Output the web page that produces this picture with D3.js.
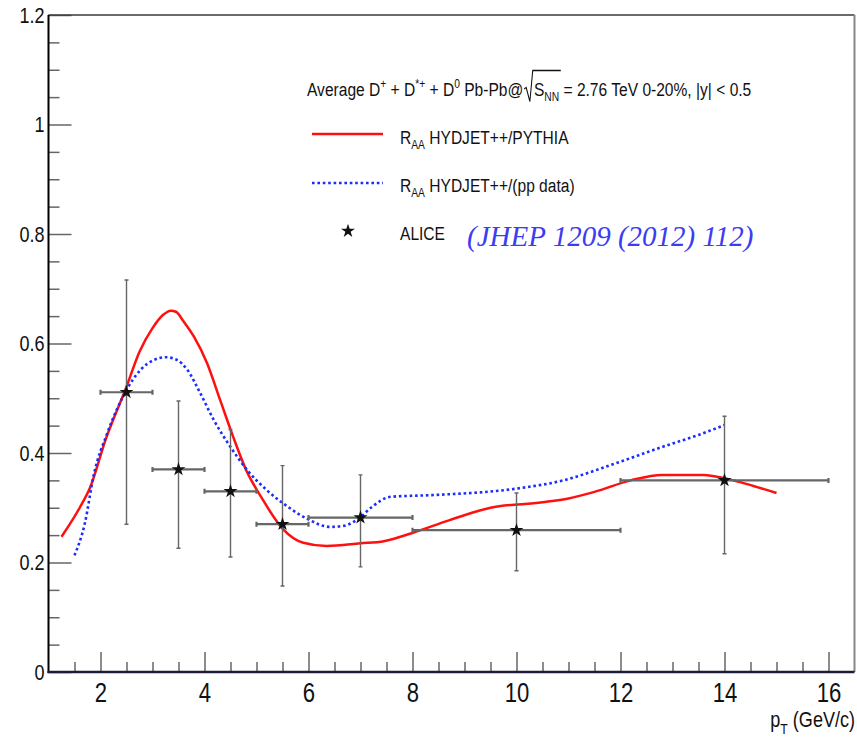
<!DOCTYPE html>
<meta charset="utf-8">
<style>
  body { margin: 0; background: #fff; }
  svg { font-family: "Liberation Sans", Arial, sans-serif; }
  .frame-left { stroke: #000; stroke-width: 2; }
  .frame-bottom { stroke: #1c1c3a; stroke-width: 2.5; }
  .frame-top { stroke: #3a3a3a; stroke-width: 1.5; }
  .frame-right { stroke: #888; stroke-width: 2; }
  .axis path { display: none; }
  .axis line { stroke: #666; stroke-width: 1.5; }
  .axis text { fill: #111; }
  .err { stroke: #666; fill: none; }
</style>
<body>
<svg width="857" height="740"></svg>
<script src="https://cdn.jsdelivr.net/npm/d3@7"></script>
<script>
  // ALICE points (D mesons, 0-20%)
  const aliceX     = [2.5, 3.5, 4.5, 5.5, 7, 10, 14];
  const aliceY     = [0.511, 0.370, 0.330, 0.270, 0.282, 0.259, 0.350];
  const aliceXLow  = [2, 3, 4, 5, 6, 8, 12];
  const aliceXHigh = [3, 4, 5, 6, 8, 12, 16];
  const aliceYLow  = [0.270, 0.226, 0.210, 0.157, 0.192, 0.185, 0.216];
  const aliceYHigh = [0.716, 0.495, 0.443, 0.377, 0.360, 0.327, 0.467];

  // HYDJET++/PYTHIA
  const pythiaX = [1.25, 1.6, 1.8, 2.1, 2.5, 2.75, 3.0, 3.2, 3.35, 3.45, 3.6, 3.8, 4.05, 4.3, 4.55,
                   4.8, 5.1, 5.5, 5.9, 6.35, 7.0, 7.45, 8.0, 8.7, 9.5, 10.5, 11.0, 11.5, 12.2, 12.8,
                   13.6, 14.0, 14.4, 15.0];
  const pythiaY = [0.247, 0.300, 0.337, 0.425, 0.521, 0.585, 0.628, 0.652, 0.660, 0.658, 0.640, 0.612, 0.564, 0.497, 0.430,
                   0.369, 0.318, 0.262, 0.236, 0.230, 0.235, 0.239, 0.254, 0.277, 0.300, 0.310, 0.317, 0.329, 0.350, 0.360,
                   0.360, 0.354, 0.344, 0.327];

  // HYDJET++/(pp data)
  const ppX = [1.5, 1.7, 1.87, 2.13, 2.5, 2.77, 3.03, 3.25, 3.47, 3.67, 3.92, 4.18, 4.5, 4.82, 5.2,
               5.6, 5.97, 6.42, 6.68, 7.0, 7.2, 7.58, 8.35, 10.0, 10.9, 11.9, 12.8, 13.5, 14.0];
  const ppY = [0.213, 0.272, 0.360, 0.436, 0.515, 0.552, 0.570, 0.575, 0.570, 0.552, 0.509, 0.460, 0.411, 0.369, 0.332,
               0.302, 0.280, 0.265, 0.267, 0.283, 0.300, 0.320, 0.323, 0.335, 0.350, 0.381, 0.411, 0.433, 0.451];

  const xTicks = [2, 4, 6, 8, 10, 12, 14, 16];
  const yTicks = [0, 0.2, 0.4, 0.6, 0.8, 1, 1.2];

  const NARROW = 0.82;   // Helvetica-narrow look, no narrow font installed

  const svg = d3.select("svg");
  const x = d3.scaleLinear().domain([1, 16.5]).range([48.5, 854.5]);
  const y = d3.scaleLinear().domain([0, 1.2]).range([672, 15]);

  const xMinor = d3.range(1.5, 16.5, 0.5).filter(v => v % 2 !== 0);
  const yMinor = d3.range(0.05, 1.2, 0.05).filter(v => Math.abs(v / 0.2 - Math.round(v / 0.2)) > 1e-6);

  // axes (ticks point inward like ROOT)
  svg.append("g").attr("class", "axis").attr("transform", `translate(0,${y(0)})`)
      .call(d3.axisBottom(x).tickValues(xMinor).tickSize(-10).tickFormat(""));
  svg.append("g").attr("class", "axis").attr("transform", `translate(0,${y(0)})`)
      .call(d3.axisBottom(x).tickValues(xTicks).tickSize(-20).tickPadding(11))
      .selectAll("text").attr("font-size", 27).attr("transform", `scale(${NARROW},1)`);

  svg.append("g").attr("class", "axis").attr("transform", `translate(${x(1)},0)`)
      .call(d3.axisLeft(y).tickValues(yMinor).tickSize(-11).tickFormat(""));
  svg.append("g").attr("class", "axis").attr("transform", `translate(${x(1)},0)`)
      .call(d3.axisLeft(y).tickValues(yTicks).tickSize(-23).tickPadding(4).tickFormat(d3.format("~g")))
      .selectAll("text").attr("font-size", 22)
      .attr("x", -4 / NARROW).attr("transform", `scale(${NARROW},1)`);

  // frame
  svg.append("line").attr("class", "frame-top").attr("x1", x(1)).attr("x2", x(16.5)).attr("y1", y(1.2)).attr("y2", y(1.2));
  svg.append("line").attr("class", "frame-right").attr("x1", x(16.5)).attr("x2", x(16.5)).attr("y1", y(1.2)).attr("y2", y(0));
  svg.append("line").attr("class", "frame-left").attr("x1", x(1)).attr("x2", x(1)).attr("y1", y(1.2)).attr("y2", y(0) + 1);
  svg.append("line").attr("class", "frame-bottom").attr("x1", x(1) - 1).attr("x2", x(16.5)).attr("y1", y(0)).attr("y2", y(0));

  // curves
  const line = d3.line().x(d => x(d[0])).y(d => y(d[1])).curve(d3.curveMonotoneX);
  svg.append("path")
      .datum(pythiaX.map((v, i) => [v, pythiaY[i]]))
      .attr("d", line)
      .attr("fill", "none").attr("stroke", "#ff1010").attr("stroke-width", 2.5);
  svg.append("path")
      .datum(ppX.map((v, i) => [v, ppY[i]]))
      .attr("d", line)
      .attr("fill", "none").attr("stroke", "#1a2cff").attr("stroke-width", 2.6)
      .attr("stroke-dasharray", "2.6,2.8");

  // ALICE error bars + markers
  const alice = aliceX.map((v, i) => ({
    x: v, y: aliceY[i], xl: aliceXLow[i], xh: aliceXHigh[i], yl: aliceYLow[i], yh: aliceYHigh[i]
  }));
  const pts = svg.append("g");
  pts.selectAll(".h").data(alice).enter().append("path")
      .attr("class", "err").attr("stroke-width", 2.2)
      .attr("d", d => `M${x(d.xl)},${y(d.y)}H${x(d.xh)}M${x(d.xl)},${y(d.y) - 2.5}v5M${x(d.xh)},${y(d.y) - 2.5}v5`);
  pts.selectAll(".v").data(alice).enter().append("path")
      .attr("class", "err").attr("stroke-width", 1.4)
      .attr("d", d => `M${x(d.x)},${y(d.yl)}V${y(d.yh)}M${x(d.x) - 2},${y(d.yl)}h4M${x(d.x) - 2},${y(d.yh)}h4`);
  const star = d3.symbol().type(d3.symbolStar).size(60);
  pts.selectAll(".m").data(alice).enter().append("path")
      .attr("transform", d => `translate(${x(d.x)},${y(d.y)})`)
      .attr("d", star).attr("fill", "#111");

  // narrow text helper: a group squeezed horizontally, text at its origin
  const narrow = (parent, px, py, size) => parent.append("g")
      .attr("transform", `translate(${px},${py}) scale(${NARROW},1)`)
      .append("text").attr("font-size", size).attr("fill", "#111");

  // legend
  const leg = svg.append("g");
  const head = narrow(leg, 307, 96, 19);
  head.append("tspan").text("Average D");
  head.append("tspan").attr("font-size", 12.5).attr("dy", -8).text("+");
  head.append("tspan").attr("dy", 8).text(" + D");
  head.append("tspan").attr("font-size", 12.5).attr("dy", -8).text("*+");
  head.append("tspan").attr("dy", 8).text(" + D");
  head.append("tspan").attr("font-size", 12.5).attr("dy", -8).text("0");
  head.append("tspan").attr("dy", 8).text(" Pb-Pb@");
  const sS = head.append("tspan").attr("dx", 13).text("S");
  const sNN = head.append("tspan").attr("font-size", 12.5).attr("dy", 5).text("NN");
  head.append("tspan").attr("dy", -5).text(" = 2.76 TeV 0-20%, |y| < 0.5");

  const bS = sS.node().getBBox(), bNN = sNN.node().getBBox();
  d3.select(head.node().parentNode).append("path")
      .attr("d", `M${bS.x - 12},-7l2.5,-1.5l4.5,14l3.5,-31H${bNN.x + bNN.width + 2}`)
      .attr("fill", "none").attr("stroke", "#111").attr("stroke-width", 1.3);

  leg.append("line").attr("x1", 312).attr("x2", 383).attr("y1", 134).attr("y2", 134)
      .attr("stroke", "#ff1010").attr("stroke-width", 2.5);
  leg.append("line").attr("x1", 312).attr("x2", 383).attr("y1", 183).attr("y2", 183)
      .attr("stroke", "#1a2cff").attr("stroke-width", 2.6).attr("stroke-dasharray", "2.6,2.8");
  leg.append("path").attr("transform", "translate(348,231)").attr("d", star).attr("fill", "#111");

  const entry = (yy, label) => {
    const t = narrow(leg, 400, yy, 19);
    t.append("tspan").text("R");
    t.append("tspan").attr("font-size", 12.5).attr("dy", 5).text("AA");
    t.append("tspan").attr("dy", -5).text(" " + label);
  };
  entry(144, "HYDJET++/PYTHIA");
  entry(192, "HYDJET++/(pp data)");
  narrow(leg, 400, 240, 19).text("ALICE");
  svg.append("text").attr("x", 467).attr("y", 246)
      .attr("font-family", "'Liberation Serif', serif").attr("font-style", "italic")
      .attr("font-size", 29).attr("fill", "#3c3cf2")
      .text("(JHEP 1209 (2012) 112)");

  // x title
  const xt = narrow(svg, 855, 727, 22).attr("text-anchor", "end");
  xt.append("tspan").text("p");
  xt.append("tspan").attr("font-size", 15).attr("dy", 7).text("T");
  xt.append("tspan").attr("dy", -7).text(" (GeV/c)");
</script>
</body>
